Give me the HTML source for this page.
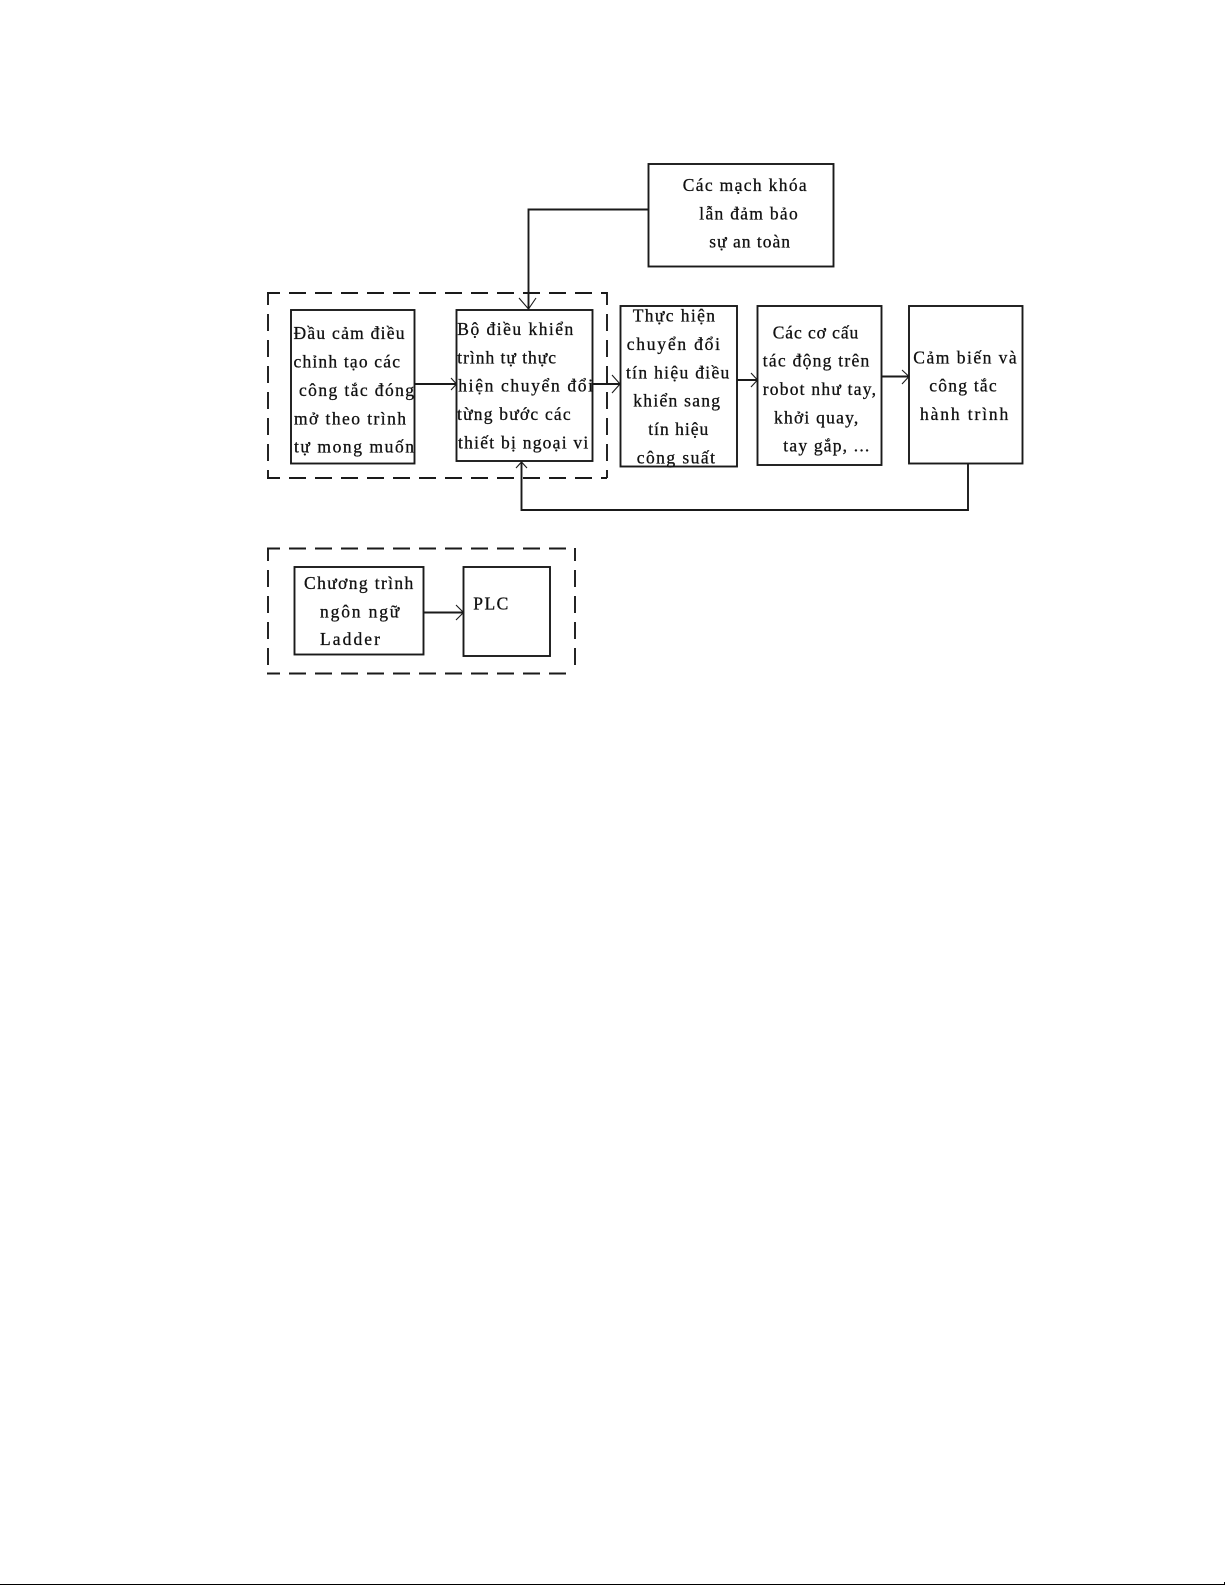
<!DOCTYPE html>
<html lang="vi">
<head>
<meta charset="utf-8">
<title>Sơ đồ</title>
<style>
html,body{margin:0;padding:0;background:#fff;width:1225px;height:1585px;overflow:hidden}
svg{display:block}
text{font-family:"Liberation Serif","DejaVu Serif",serif;font-size:17.5px;fill:#111;stroke:#111;stroke-width:.3}
.b{fill:#fff;stroke:#1a1a1a;stroke-width:1.9}
.d{fill:none;stroke:#1a1a1a;stroke-width:1.9;stroke-dasharray:17 9;stroke-dashoffset:4}
.l{fill:none;stroke:#1a1a1a;stroke-width:1.9}
.a{fill:none;stroke:#1a1a1a;stroke-width:1.1}
</style>
</head>
<body>
<svg width="1225" height="1585" viewBox="0 0 1225 1585" xmlns="http://www.w3.org/2000/svg">
<rect width="1225" height="1585" fill="#fff"/>

<!-- dashed groups -->
<line class="d" x1="267" y1="293" x2="607" y2="293"/>
<line class="d" x1="268" y1="292" x2="268" y2="478"/>
<line class="d" x1="607" y1="292" x2="607" y2="478"/>
<line class="d" x1="267" y1="478" x2="607" y2="478"/>
<line class="d" x1="267" y1="548.5" x2="575" y2="548.5"/>
<line class="d" x1="268" y1="548" x2="268" y2="674"/>
<line class="d" x1="575" y1="548" x2="575" y2="674"/>
<line class="d" x1="267" y1="673.5" x2="575" y2="673.5"/>

<!-- boxes -->
<rect class="b" x="648.5" y="164" width="185" height="102.5"/>
<rect class="b" x="291" y="310" width="123.5" height="153.5"/>
<rect class="b" x="456.5" y="310" width="136" height="151"/>
<rect class="b" x="620.5" y="306" width="116.5" height="160.5"/>
<rect class="b" x="757.5" y="306" width="124" height="159"/>
<rect class="b" x="909" y="306" width="113.5" height="157.5"/>
<rect class="b" x="294.5" y="567" width="129" height="87.5"/>
<rect class="b" x="463.5" y="567" width="86.5" height="89"/>

<!-- connectors -->
<polyline class="l" points="648,209.5 528.5,209.5 528.5,309"/>
<polyline class="a" points="519,298 528.5,309 536,298"/>
<polyline class="l" points="968,464 968,510 521.5,510 521.5,462"/>
<polyline class="a" points="516,468 521.5,462 527,468"/>
<line class="l" x1="414.5" y1="384" x2="456" y2="384"/>
<polyline class="a" points="451,378 456.5,384 451,390"/>
<line class="l" x1="592.5" y1="384" x2="620" y2="384"/>
<polyline class="a" points="612,375 620,384 612,393"/>
<line class="l" x1="737" y1="380" x2="757" y2="380"/>
<polyline class="a" points="751,373 757.5,380 751,387"/>
<line class="l" x1="881.5" y1="376.5" x2="909" y2="376.5"/>
<polyline class="a" points="902,370 909,376.5 902,384"/>
<line class="l" x1="423.5" y1="612.5" x2="463" y2="612.5"/>
<polyline class="a" points="456,605 463.5,612.5 456,620"/>

<!-- top box -->
<text x="682.7" y="191" textLength="124" lengthAdjust="spacing">Các mạch khóa</text>
<text x="699.3" y="219.3" textLength="98.4" lengthAdjust="spacing">lẫn đảm bảo</text>
<text x="709.3" y="247.7" textLength="80.7" lengthAdjust="spacing">sự an toàn</text>

<!-- box A -->
<text x="293.5" y="339" textLength="111" lengthAdjust="spacing">Đầu cảm điều</text>
<text x="293.5" y="367.3" textLength="106.5" lengthAdjust="spacing">chỉnh tạo các</text>
<text x="299" y="396" textLength="115" lengthAdjust="spacing">công tắc đóng</text>
<text x="294" y="424.3" textLength="112" lengthAdjust="spacing">mở theo trình</text>
<text x="294" y="452.7" textLength="120" lengthAdjust="spacing">tự mong muốn</text>

<!-- box B -->
<text x="457.3" y="335" textLength="116" lengthAdjust="spacing">Bộ điều khiển</text>
<text x="457.3" y="363.3" textLength="98.7" lengthAdjust="spacing">trình tự thực</text>
<text x="458.3" y="391.7" textLength="134.7" lengthAdjust="spacing">hiện chuyển đổi</text>
<text x="457" y="420" textLength="113.7" lengthAdjust="spacing">từng bước các</text>
<text x="458" y="448.3" textLength="130.3" lengthAdjust="spacing">thiết bị ngoại vi</text>

<!-- box C -->
<text x="632.7" y="321.7" textLength="82.3" lengthAdjust="spacing">Thực hiện</text>
<text x="626.7" y="350" textLength="93.3" lengthAdjust="spacing">chuyển đổi</text>
<text x="626" y="378.3" textLength="103.3" lengthAdjust="spacing">tín hiệu điều</text>
<text x="633.3" y="406.7" textLength="86.7" lengthAdjust="spacing">khiển sang</text>
<text x="648.3" y="435" textLength="60" lengthAdjust="spacing">tín hiệu</text>
<text x="636.7" y="463.3" textLength="78.3" lengthAdjust="spacing">công suất</text>

<!-- box D -->
<text x="772.7" y="338.3" textLength="85.6" lengthAdjust="spacing">Các cơ cấu</text>
<text x="762.7" y="366.7" textLength="106.6" lengthAdjust="spacing">tác động trên</text>
<text x="762.7" y="395" textLength="113.3" lengthAdjust="spacing">robot như tay,</text>
<text x="774" y="423.3" textLength="84.3" lengthAdjust="spacing">khởi quay,</text>
<text x="783.3" y="451.7" textLength="86" lengthAdjust="spacing">tay gắp, ...</text>

<!-- box E -->
<text x="913.3" y="363.3" textLength="103.4" lengthAdjust="spacing">Cảm biến và</text>
<text x="929.3" y="391.7" textLength="67.4" lengthAdjust="spacing">công tắc</text>
<text x="920" y="420" textLength="88.3" lengthAdjust="spacing">hành trình</text>

<!-- lower group -->
<text x="304" y="589" textLength="109.3" lengthAdjust="spacing">Chương trình</text>
<text x="320" y="617.3" textLength="79.3" lengthAdjust="spacing">ngôn ngữ</text>
<text x="320" y="645" textLength="60" lengthAdjust="spacing">Ladder</text>
<text x="473.3" y="609.3" textLength="35" lengthAdjust="spacing">PLC</text>

<!-- page edge -->
<rect x="0" y="1584" width="1224" height="1" fill="#000"/>
<rect x="1224" y="1582" width="1" height="3" fill="#000"/>
</svg>
</body>
</html>
